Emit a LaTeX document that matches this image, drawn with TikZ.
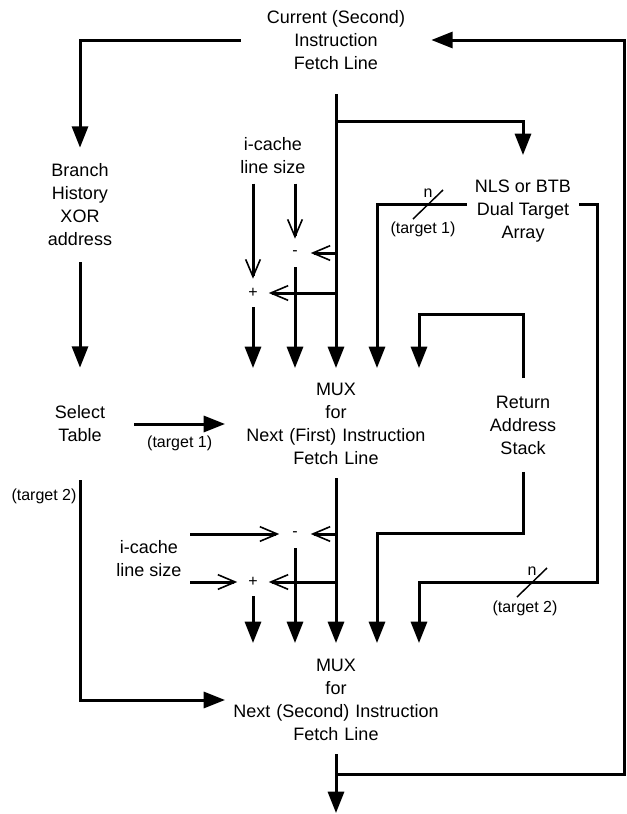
\documentclass[tikz,border=0pt]{standalone}
\usepackage{fontspec}
\setmainfont{Liberation Sans}
\usetikzlibrary{arrows.meta, positioning}

\begin{document}
\begin{tikzpicture}[
        x=0.75pt, y=-0.75pt,
        txt/.style={align=center, inner sep=0pt, font=\fontsize{13.5}{17.25}\selectfont},
        mux/.style={txt, text width=166pt, inner ysep=10pt},
        lbl/.style={inner sep=0pt, font=\fontsize{12}{14}\selectfont},
        op/.style={lbl, minimum width=23.25pt, minimum height=21pt},
        wire/.style={line width=2.25pt},
        fwd/.style={wire, -{Triangle[length=16pt, width=12pt]}},
        inp/.style={wire, -{Straight Barb[length=13pt, width=11pt, line width=1.2pt]}},
        bus/.style={line width=1.1pt}
      ]
      \useasboundingbox (0,0) rectangle (626,814);

      \node (cur) [txt, inner xsep=19.5pt, inner ysep=18.4pt] at (336,40) {Current (Second)\\Instruction\\Fetch Line};
      \node (bhx) [txt, inner ysep=12pt] at (80,205) {Branch\\History\\XOR\\address};
      \node (sel) [txt, inner xsep=21.75pt, inner ysep=28.5pt] at (80,424) {Select\\Table};
      \node (ics1) [txt, inner ysep=7pt] at (273,156) {i-cache\\line size};
      \node (ics2) [txt, inner xsep=6.4pt] at (149,559) {i-cache\\line size};
      \node (nls) [txt, inner xsep=6pt, inner ysep=18.4pt] at (523,211) {NLS or BTB\\Dual Target\\Array};
      \node (ras) [txt, inner ysep=13pt] at (523,425) {Return\\Address\\Stack};
      \node (mux1) [mux] at (336,424) {MUX\\for\\Next (First) Instruction\\Fetch Line};
      \node (mux2) [mux] at (336,700) {MUX\\for\\Next (Second) Instruction\\Fetch Line};
      \node (minus1) [op] at (295,253) {-};
      \node (plus1) [op] at (253,293) {+};
      \node (minus2) [op] at (295,534) {-};
      \node (plus2) [op] at (253,582) {+};

      \foreach \i/\x in {a/253, b/295, c/336, d/377, e/419} {
        \coordinate (m1\i) at (\x,368);
        \coordinate (m2\i) at (\x,643);
      }
      \coordinate (j1) at (336,121);
      \coordinate (fb) at (336,774);
      \coordinate (fbR) at (624,40);
      \coordinate (out) at (336,813);
      \coordinate (s1) at (428,204);
      \coordinate (s2) at (532,582);
      \coordinate (nlsR) at (597,582);

      \draw[fwd] (cur.west) -| (bhx.north);
      \draw[fwd] (cur.south) -- (m1c);
      \draw[fwd] (j1) -| (nls.north);
      \draw[inp] (ics1.south -| plus1) -- (plus1.north);
      \draw[inp] (ics1.south -| minus1) -- (minus1.north);
      \draw[inp] (minus1 -| m1c) -- (minus1.east);
      \draw[inp] (plus1 -| m1c) -- (plus1.east);
      \draw[fwd] (plus1.south) -- (m1a);
      \draw[fwd] (minus1.south) -- (m1b);
      \draw[fwd] ([yshift=5.25pt]nls.west) -| (m1d);
      \draw[fwd] (ras.north) -- ++(0,-64) -| (m1e);

      \draw[bus] (s1) ++(-15,15) -- ++(30,-29);
      \node (n1) [lbl, above=5pt] at (s1) {n};
      \node (tg1) [lbl] at (423,229) {(target 1)};

      \draw[fwd] (bhx.south) -- (sel.north);
      \draw[fwd] (sel.east) -- (mux1.west) node (t1) [lbl, midway, below=8pt] {(target 1)};
      \draw[fwd] (sel.south) |- (mux2.west);
      \node (t2) [lbl] at (44,496) {(target 2)};

      \draw[fwd] (mux1.south) -- (m2c);
      \draw[inp] (ics2.east |- minus2) -- (minus2.west);
      \draw[inp] (ics2.east |- plus2) -- (plus2.west);
      \draw[inp] (minus2 -| m2c) -- (minus2.east);
      \draw[inp] (plus2 -| m2c) -- (plus2.east);
      \draw[fwd] (plus2.south) -- (m2a);
      \draw[fwd] (minus2.south) -- (m2b);
      \draw[fwd] (ras.south) -- ++(0,62) -| (m2d);
      \draw[fwd] ([yshift=5.25pt]nls.east) -| (nlsR) -| (m2e);

      \draw[bus] (s2) ++(-15,15) -- ++(30,-29);
      \node (n2) [lbl, above=5pt] at (s2) {n};
      \node (tg2) [lbl] at (525,608) {(target 2)};

      \draw[fwd] (mux2.south) -- (out);
      \draw[fwd] (fb) -| (fbR) -- (cur.east);
    \end{tikzpicture}
\end{document}
